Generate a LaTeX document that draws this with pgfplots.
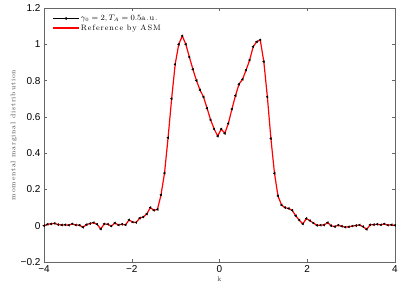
\documentclass[border=0pt]{standalone}
\usepackage{fontspec}
\usepackage{pgfplots}
\pgfplotsset{compat=1.18}
\newfontfamily\tickfont{Liberation Sans}
\newfontfamily\lblfont{Latin Modern Roman}[LetterSpace=12]
\pgfplotstableread{
k v
-4.000 0.000
-3.919 0.008
-3.838 0.010
-3.758 0.013
-3.677 0.006
-3.596 0.004
-3.515 0.005
-3.434 0.003
-3.354 0.010
-3.273 0.004
-3.192 0.003
-3.111 -0.008
-3.030 0.006
-2.949 0.012
-2.869 0.017
-2.788 0.008
-2.707 -0.018
-2.626 0.010
-2.545 0.008
-2.465 -0.002
-2.384 0.015
-2.303 0.004
-2.222 0.008
-2.141 0.005
-2.061 0.032
-1.980 0.020
-1.899 0.018
-1.818 0.042
-1.737 0.048
-1.657 0.065
-1.576 0.100
-1.495 0.085
-1.414 0.090
-1.333 0.170
-1.253 0.290
-1.172 0.485
-1.091 0.700
-1.010 0.890
-0.929 1.000
-0.848 1.046
-0.768 1.000
-0.687 0.930
-0.606 0.862
-0.525 0.800
-0.444 0.748
-0.364 0.710
-0.283 0.647
-0.202 0.583
-0.121 0.533
-0.040 0.494
0.040 0.533
0.121 0.509
0.202 0.564
0.283 0.643
0.364 0.717
0.444 0.780
0.525 0.807
0.606 0.858
0.687 0.913
0.768 0.987
0.848 1.014
0.929 1.024
1.010 0.904
1.091 0.710
1.172 0.480
1.253 0.289
1.333 0.164
1.414 0.114
1.495 0.100
1.576 0.095
1.657 0.085
1.737 0.055
1.818 0.031
1.899 0.010
1.980 0.040
2.061 0.028
2.141 0.015
2.222 0.002
2.303 0.003
2.384 0.004
2.465 0.017
2.545 0.000
2.626 -0.005
2.707 0.003
2.788 -0.003
2.869 -0.008
2.949 -0.006
3.030 -0.002
3.111 0.001
3.192 0.004
3.273 -0.005
3.354 -0.020
3.434 0.005
3.515 0.006
3.596 0.008
3.677 0.005
3.758 0.010
3.838 0.003
3.919 0.005
4.000 0.002
}\datatable
\begin{document}
\begin{tikzpicture}
\begin{axis}[
  scale only axis,
  width=351pt, height=254pt,
  xmin=-4, xmax=4, ymin=-0.2, ymax=1.2,
  xtick={-4,-2,0,2,4},
  xticklabels={−4,−2,0,2,4},
  ytick={-0.2,0,0.2,0.4,0.6,0.8,1,1.2},
  yticklabels={−0.2,0,0.2,0.4,0.6,0.8,1,1.2},
  ticklabel style={font=\tickfont\fontsize{10}{11}\selectfont, text=black},
  tick align=inside,
  tick style={black!60, line width=0.5pt},
  major tick length=3pt,
  axis line style={black!60, line width=0.6pt},
  xlabel={k}, ylabel={momental marginal distribution},
  label style={font=\lblfont\fontsize{6.8}{7}\selectfont, text=black!75},
  xlabel style={yshift=3pt},
  ylabel style={yshift=-3pt},
  legend style={draw=none, fill=none, at={(0.02,0.985)}, anchor=north west,
    font=\lblfont\fontsize{7.8}{8}\selectfont, row sep=-1.5pt, inner sep=1pt,
    nodes={inner xsep=1.5pt}},
  legend cell align=left,
  legend image code/.code={%
    \draw[mark repeat=2,mark phase=2,#1] plot coordinates {(0pt,0pt) (13pt,0pt) (26pt,0pt)};},
]
\addplot[red, line width=1.2pt, forget plot] table[x=k,y=v]{\datatable};
\addplot[only marks, black, mark=triangle*, mark size=1.2pt, mark options={rotate=90}, forget plot] table[x=k,y=v]{\datatable};
\addlegendimage{black, line width=0.6pt, mark=triangle*, mark size=1.2pt, mark options={rotate=90}}
\addlegendentry{$\gamma_0=2, T_A=0.5$a.u.}
\addlegendimage{red, line width=1.2pt}
\addlegendentry{Reference by ASM}
\end{axis}
\pgfresetboundingbox
\path ([xshift=-44pt,yshift=-24pt]current axis.south west) rectangle ([xshift=6pt,yshift=8pt]current axis.north east);
\end{tikzpicture}
\end{document}
